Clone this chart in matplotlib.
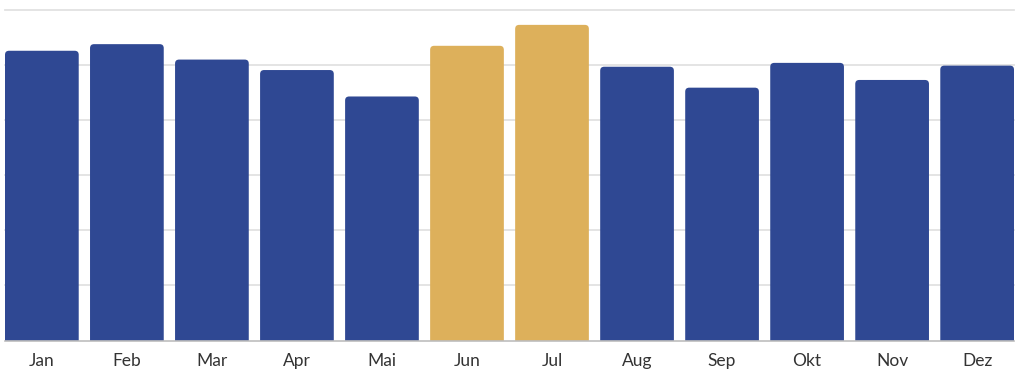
import matplotlib
matplotlib.use("Agg")
import matplotlib.pyplot as plt
from matplotlib.patches import FancyBboxPatch

months = ["Jan", "Feb", "Mar", "Apr", "Mai", "Jun", "Jul", "Aug", "Sep", "Okt", "Nov", "Dez"]
values = [5.26, 5.38, 5.10, 4.91, 4.43, 5.35, 5.73, 4.97, 4.59, 5.04, 4.73, 4.99]
highlight = ["Jun", "Jul"]
grid_ticks = [1, 2, 3, 4, 5, 6]

BLUE = "#2F4893"
GOLD = "#DDB05B"

fig = plt.figure(figsize=(10.24, 3.76), dpi=100)
ax = fig.add_axes([5 / 1024, 35.5 / 376, 1009 / 1024, 330.5 / 376])

x = list(range(len(months)))
colors = [GOLD if m in highlight else BLUE for m in months]
bw = 0.867
bars = ax.bar(x, values, width=bw, color=colors, zorder=2)

# replace with rounded-top bars
px_per_x = 85.0
px_per_y = 55.08
r_px = 4.0
rx = r_px / px_per_x
aspect = px_per_x / px_per_y
for b, c in zip(bars, colors):
    bx, by, w, h = b.get_x(), b.get_y(), b.get_width(), b.get_height()
    b.set_visible(False)
    ext = 0.2
    p = FancyBboxPatch((bx, by - ext), w, h + ext,
                       boxstyle=f"round,pad=0,rounding_size={rx}",
                       mutation_aspect=aspect, facecolor=c, edgecolor="none",
                       zorder=2)
    ax.add_patch(p)

ax.set_xlim(-bw / 2, len(months) - 1 + bw / 2)
ax.set_ylim(0, 6)

for t in grid_ticks:
    ax.axhline(t, color="#e2e2e2", lw=1.3, zorder=1, clip_on=False)
ax.axhline(0, color="#bdbdbd", lw=1.2, zorder=3, clip_on=False)

for s in ax.spines.values():
    s.set_visible(False)
ax.set_yticks([])
ax.set_xticks(x)
ax.set_xticklabels(months, fontsize=12.5, color="#333333", family="Lato")
ax.tick_params(axis="x", length=0, pad=9)

fig.savefig("out.png", dpi=100)
